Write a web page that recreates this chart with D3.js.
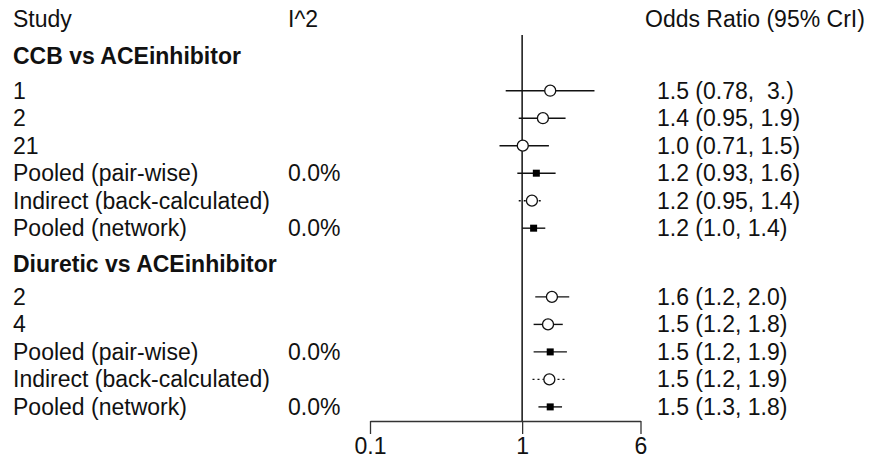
<!DOCTYPE html>
<html>
<head>
<meta charset="utf-8">
<script src="https://cdn.jsdelivr.net/npm/d3@7"></script>
<style>
  body { margin: 0; background: #fff; }
  text { font-family: "Liberation Sans", Arial, sans-serif; font-size: 23px; fill: #111; white-space: pre; }
</style>
</head>
<body>
<script>
// groups and rows
let groupNames = ["CCB vs ACEinhibitor", "Diuretic vs ACEinhibitor"];
let studyLabels = [
  ["1", "2", "21", "Pooled (pair-wise)", "Indirect (back-calculated)", "Pooled (network)"],
  ["2", "4", "Pooled (pair-wise)", "Indirect (back-calculated)", "Pooled (network)"]
];
let i2Labels = [
  ["", "", "", "0.0%", "", "0.0%"],
  ["", "", "0.0%", "", "0.0%"]
];
let estimates = [
  [1.53, 1.37, 1.01, 1.24, 1.16, 1.19],
  [1.57, 1.48, 1.53, 1.51, 1.53]
];
let lowers = [
  [0.78, 0.95, 0.71, 0.93, 0.95, 1.0],
  [1.22, 1.19, 1.19, 1.17, 1.28]
];
let uppers = [
  [2.99, 1.93, 1.5, 1.66, 1.36, 1.42],
  [2.04, 1.85, 1.97, 1.97, 1.83]
];
// "study" = open circle, "pooled" = filled square, "indirect" = dotted + circle
let rowTypes = [
  ["study", "study", "study", "pooled", "indirect", "pooled"],
  ["study", "study", "pooled", "indirect", "pooled"]
];
let ciLabels = [
  ["1.5 (0.78,  3.)", "1.4 (0.95, 1.9)", "1.0 (0.71, 1.5)", "1.2 (0.93, 1.6)", "1.2 (0.95, 1.4)", "1.2 (1.0, 1.4)"],
  ["1.6 (1.2, 2.0)", "1.5 (1.2, 1.8)", "1.5 (1.2, 1.9)", "1.5 (1.2, 1.9)", "1.5 (1.3, 1.8)"]
];
let tickValues = [0.1, 1, 6];

var width = 870, height = 459;

var svg = d3.select("body").append("svg")
  .attr("width", width)
  .attr("height", height);

// lay out rows: header then rows, 1 slot per row
let rows = [];
let headers = [];
let slot = -1.25;
for (let g = 0; g < groupNames.length; g++) {
  headers.push({ name: groupNames[g], slot: slot });
  slot += g == 0 ? 1.25 : 1.2;
  for (let i = 0; i < studyLabels[g].length; i++) {
    rows.push({
      label: studyLabels[g][i],
      i2: i2Labels[g][i],
      est: estimates[g][i],
      lo: lowers[g][i],
      hi: uppers[g][i],
      type: rowTypes[g][i],
      ci: ciLabels[g][i],
      slot: slot
    });
    slot += 1;
  }
  slot += 0.3;
}

var x = d3.scaleLog().domain([0.1, 6]).range([370, 640.5]);
var y = d3.scaleLinear().domain([0, 11.5]).range([90.7, 406.9]);

var colStudy = 13, colI2 = 288, colHead = 645, colCI = 657;

// header line
svg.append("text").attr("x", colStudy).attr("y", y(-2.6) + 8).text("Study");
svg.append("text").attr("x", colI2).attr("y", y(-2.6) + 8).text("I^2");
svg.append("text").attr("x", colHead).attr("y", y(-2.6) + 8).text("Odds Ratio (95% CrI)");

svg.selectAll("text.group")
  .data(headers)
  .enter()
  .append("text")
  .attr("class", "group")
  .attr("x", colStudy)
  .attr("y", function(d) { return y(d.slot) + 8; })
  .attr("font-weight", "bold")
  .text(function(d) { return d.name; });

svg.selectAll("text.study")
  .data(rows)
  .enter()
  .append("text")
  .attr("class", "study")
  .attr("x", colStudy)
  .attr("y", function(d) { return y(d.slot) + 8; })
  .text(function(d) { return d.label; });

svg.selectAll("text.i2")
  .data(rows)
  .enter()
  .append("text")
  .attr("class", "i2")
  .attr("x", colI2)
  .attr("y", function(d) { return y(d.slot) + 8; })
  .text(function(d) { return d.i2; });

svg.selectAll("text.ci")
  .data(rows)
  .enter()
  .append("text")
  .attr("class", "ci")
  .attr("x", colCI)
  .attr("y", function(d) { return y(d.slot) + 8; })
  .text(function(d) { return d.ci; });

// reference line at 1
svg.append("line")
  .attr("x1", x(1)).attr("x2", x(1))
  .attr("y1", 35).attr("y2", 421)
  .attr("stroke", "#000")
  .attr("stroke-width", 1.4);

// x axis
var xAxis = d3.axisBottom(x)
  .tickValues(tickValues)
  .tickFormat(function(d) { return d; })
  .tickSize(13)
  .tickSizeOuter(0);

var axisG = svg.append("g")
  .attr("transform", "translate(0,421)")
  .call(xAxis);
axisG.select(".domain").attr("stroke", "#333").attr("stroke-width", 1.3);
axisG.selectAll(".tick line").attr("stroke", "#333").attr("stroke-width", 1.3);
axisG.selectAll(".tick text")
  .attr("font-family", "Liberation Sans, Arial, sans-serif")
  .attr("font-size", "23px")
  .attr("fill", "#111")
  .attr("y", 33)
  .attr("dy", 0);

// CI lines
svg.selectAll("line.ci")
  .data(rows)
  .enter()
  .append("line")
  .attr("class", "ci")
  .attr("x1", function(d) { return x(d.lo); })
  .attr("x2", function(d) { return x(d.hi); })
  .attr("y1", function(d) { return y(d.slot); })
  .attr("y2", function(d) { return y(d.slot); })
  .attr("stroke", "#111")
  .attr("stroke-width", 1.4)
  .attr("stroke-dasharray", function(d) { return d.type == "indirect" ? "2,3" : null; });

// point estimates
svg.selectAll("circle.pt")
  .data(rows.filter(function(d) { return d.type != "pooled"; }))
  .enter()
  .append("circle")
  .attr("class", "pt")
  .attr("cx", function(d) { return x(d.est); })
  .attr("cy", function(d) { return y(d.slot); })
  .attr("r", 5.5)
  .attr("fill", "#fff")
  .attr("stroke", "#111")
  .attr("stroke-width", 1.3);

svg.selectAll("rect.pt")
  .data(rows.filter(function(d) { return d.type == "pooled"; }))
  .enter()
  .append("rect")
  .attr("class", "pt")
  .attr("x", function(d) { return x(d.est) - 3.5; })
  .attr("y", function(d) { return y(d.slot) - 3.5; })
  .attr("width", 7)
  .attr("height", 7)
  .attr("fill", "#000");
</script>
</body>
</html>
